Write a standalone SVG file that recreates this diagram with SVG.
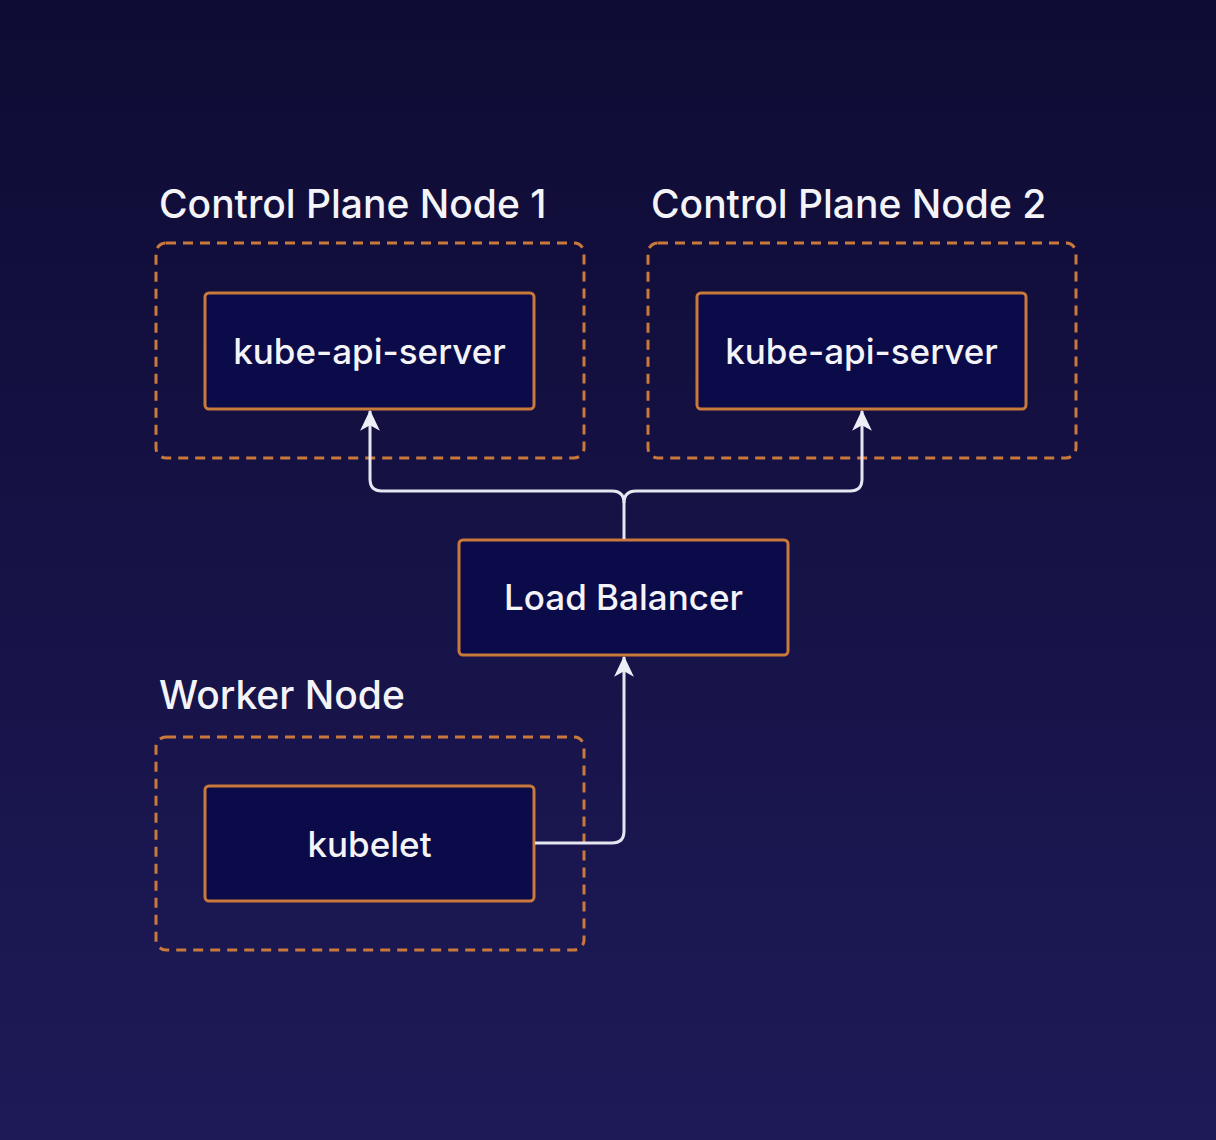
<svg xmlns="http://www.w3.org/2000/svg" width="1216" height="1140" viewBox="0 0 1216 1140">
<defs>
<linearGradient id="bg" x1="0" y1="0" x2="0" y2="1">
<stop offset="0" stop-color="#0e0b34"/>
<stop offset="1" stop-color="#1e1a58"/>
</linearGradient>
<marker id="arr" viewBox="0 0 20 20" refX="19" refY="10" markerWidth="22" markerHeight="22" markerUnits="userSpaceOnUse" orient="auto">
<path d="M20 10 L1 1 L6 10 L1 19 Z" fill="#eeeef6"/>
</marker>
</defs>
<style>
.grp{fill:none;stroke:#c9793b;stroke-width:3;stroke-dasharray:10 7}
.box{fill:#0b0b4a;stroke:#c9793b;stroke-width:3}
.lbl{font-family:Inter,"Liberation Sans",sans-serif;font-size:39px;font-weight:500;fill:#f4f4f8}
.txt{font-family:Inter,"Liberation Sans",sans-serif;font-size:35px;font-weight:500;fill:#f4f4f8;text-anchor:middle}
.con{fill:none;stroke:#e6e6f2;stroke-width:3}
</style>
<rect width="1216" height="1140" fill="url(#bg)"/>
<g id="cp1">
<text class="lbl" x="159" y="218">Control Plane Node 1</text>
<rect class="grp" x="156" y="243" width="428" height="215" rx="10"/>
<rect class="box" x="205" y="293" width="329" height="116" rx="4"/>
<text class="txt" x="369.5" y="364">kube-api-server</text>
</g>
<g id="cp2">
<text class="lbl" x="651" y="218">Control Plane Node 2</text>
<rect class="grp" x="648" y="243" width="428" height="215" rx="10"/>
<rect class="box" x="697" y="293" width="329" height="116" rx="4"/>
<text class="txt" x="861.5" y="364">kube-api-server</text>
</g>
<g id="lb">
<rect class="box" x="459" y="540" width="329" height="115" rx="4"/>
<text class="txt" x="623.5" y="610">Load Balancer</text>
</g>
<g id="worker">
<text class="lbl" x="159" y="709">Worker Node</text>
<rect class="grp" x="156" y="737" width="428" height="213" rx="10"/>
<rect class="box" x="205" y="786" width="329" height="115" rx="4"/>
<text class="txt" x="369.5" y="857">kubelet</text>
</g>
<g id="connectors">
<path class="con" d="M624 539 V503 Q624 491 612 491 H382 Q370 491 370 479 V411" marker-end="url(#arr)"/>
<path class="con" d="M624 503 Q624 491 636 491 H850 Q862 491 862 479 V411" marker-end="url(#arr)"/>
<path class="con" d="M535 843 H612 Q624 843 624 831 V657" marker-end="url(#arr)"/>
</g>
</svg>
